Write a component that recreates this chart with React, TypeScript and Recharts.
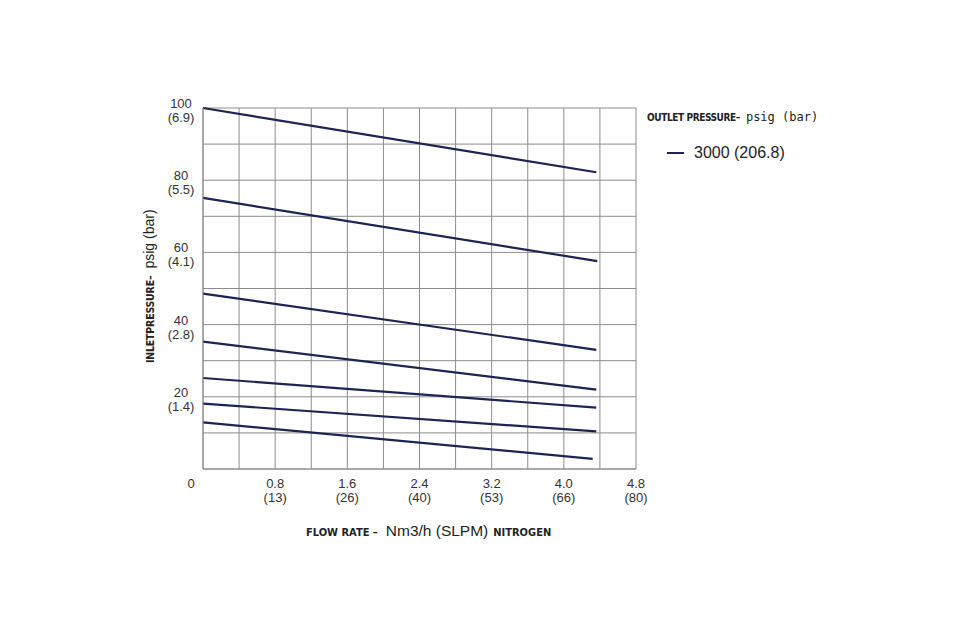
import { LineChart, Line, XAxis, YAxis, CartesianGrid, Legend } from 'recharts';

const flowTicks = [0, 0.4, 0.8, 1.2, 1.6, 2.0, 2.4, 2.8, 3.2, 3.6, 4.0, 4.4, 4.8];
const flowLabels = [0.8, 1.6, 2.4, 3.2, 4.0, 4.8];
const flowSlpm = ['(13)', '(26)', '(40)', '(53)', '(66)', '(80)'];

const pressureTicks = [0, 10, 20, 30, 40, 50, 60, 70, 80, 90, 100];
const pressurePsig = [20, 40, 60, 80, 100];
const pressureBar = ['(1.4)', '(2.8)', '(4.1)', '(5.5)', '(6.9)'];

// each curve is a straight run from zero flow to its end point
const curveStartPsig = [100, 75.1, 48.6, 35.3, 25.2, 18.1, 12.9];
const curveEndPsig = [82.2, 57.6, 33.0, 22.0, 17.0, 10.4, 2.8];
const curveEndFlow = [4.36, 4.37, 4.36, 4.36, 4.36, 4.36, 4.32];

const outletPressure = '3000 (206.8)';

const curves = curveStartPsig.map((start, i) => [
  { flow: 0, psig: start },
  { flow: curveEndFlow[i], psig: curveEndPsig[i] },
]);

const LINE_COLOR = '#1c2452';
const GRID_COLOR = '#8c8c8c';
const TEXT_COLOR = '#333333';
const NARROW = "'Liberation Sans Narrow', 'DejaVu Sans Condensed', Arial, sans-serif";
const SANS = "'Liberation Sans', Arial, sans-serif";

const FlowTick = ({ x, y, payload }: any) => {
  const v = payload.value;
  if (v === 0) {
    return (
      <text x={x - 12} y={y + 19} textAnchor="middle" fontSize={13} fill={TEXT_COLOR} fontFamily={SANS}>
        0
      </text>
    );
  }
  const i = flowLabels.findIndex((f) => Math.abs(f - v) < 1e-6);
  if (i < 0) return <g />;
  return (
    <text x={x} y={y + 19} textAnchor="middle" fontSize={13} fill={TEXT_COLOR} fontFamily={SANS}>
      <tspan x={x}>{flowLabels[i].toFixed(1)}</tspan>
      <tspan x={x} dy={14}>{flowSlpm[i]}</tspan>
    </text>
  );
};

const PressureTick = ({ x, y, payload }: any) => {
  const i = pressurePsig.indexOf(payload.value);
  if (i < 0) return <g />;
  return (
    <text x={x - 22} y={y} textAnchor="middle" fontSize={13} fill={TEXT_COLOR} fontFamily={SANS}>
      <tspan x={x - 22}>{pressurePsig[i]}</tspan>
      <tspan x={x - 22} dy={14}>{pressureBar[i]}</tspan>
    </text>
  );
};

const FlowTitle = () => (
  <text x={306} y={536} fill="#222" fontFamily={SANS}>
    <tspan fontFamily={NARROW} fontWeight={700} fontSize={11}>FLOW RATE –</tspan>
    <tspan fontSize={15.5} dx={8}>Nm3/h (SLPM)</tspan>
    <tspan fontFamily={NARROW} fontWeight={700} fontSize={11} dx={5}>NITROGEN</tspan>
  </text>
);

const PressureTitle = () => (
  <text transform="translate(154,363) rotate(-90)" x={0} y={0} fill="#222" fontFamily={SANS}>
    <tspan fontFamily={NARROW} fontWeight={700} fontSize={10.5} letterSpacing={-0.2}>INLETPRESSURE–</tspan>
    <tspan fontSize={14} dx={7}>psig (bar)</tspan>
  </text>
);

const OutletLegend = () => (
  <div style={{ fontFamily: SANS, color: '#222' }}>
    <div style={{ whiteSpace: 'nowrap', lineHeight: '16px' }}>
      <span style={{ fontFamily: NARROW, fontWeight: 700, fontSize: 10, letterSpacing: -0.4 }}>OUTLET PRESSURE–</span>
      <span style={{ fontFamily: "'DejaVu Sans Mono', monospace", fontSize: 12, marginLeft: 6 }}>psig (bar)</span>
    </div>
    <div style={{ marginTop: 18, marginLeft: 20, display: 'flex', alignItems: 'center', height: 18 }}>
      <span style={{ width: 17, height: 2, background: LINE_COLOR, display: 'inline-block' }} />
      <span style={{ marginLeft: 10, fontSize: 16, whiteSpace: 'nowrap' }}>{outletPressure}</span>
    </div>
  </div>
);

export default function App() {
  return (
    <div style={{ position: 'absolute', left: 0, top: 0, width: 960, height: 640, background: '#fff' }}>
      <LineChart width={960} height={640} margin={{ top: 108, right: 324, left: 143, bottom: 141 }}>
        <CartesianGrid stroke={GRID_COLOR} strokeWidth={1} />
        <XAxis
          type="number"
          dataKey="flow"
          domain={[0, 4.8]}
          ticks={flowTicks}
          interval={0}
          height={30}
          tickSize={0}
          tickMargin={0}
          tickLine={false}
          stroke={GRID_COLOR}
          tick={<FlowTick />}
          label={{ content: () => <FlowTitle /> }}
        />
        <YAxis
          type="number"
          domain={[0, 100]}
          ticks={pressureTicks}
          interval={0}
          width={60}
          tickSize={0}
          tickMargin={0}
          tickLine={false}
          stroke={GRID_COLOR}
          tick={<PressureTick />}
          label={{ content: () => <PressureTitle /> }}
        />
        <Legend
          layout="horizontal"
          verticalAlign="middle"
          align="center"
          content={() => <OutletLegend />}
          wrapperStyle={{ left: 647, top: 108, width: 220, height: 60 }}
        />
        {curves.map((data, i) => (
          <Line
            key={i}
            data={data}
            dataKey="psig"
            type="linear"
            stroke={LINE_COLOR}
            strokeWidth={2.2}
            dot={false}
            activeDot={false}
            name={outletPressure}
            isAnimationActive={false}
          />
        ))}
      </LineChart>
    </div>
  );
}
